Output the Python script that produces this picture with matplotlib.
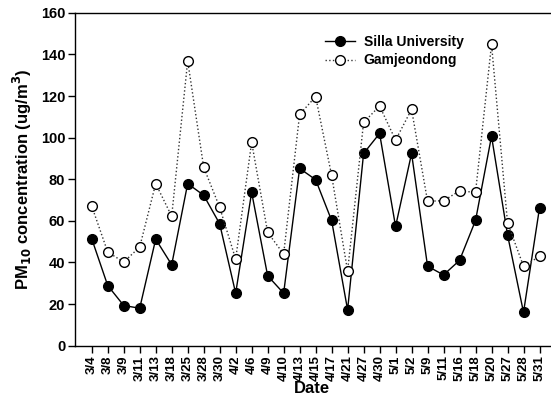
import matplotlib
matplotlib.use("Agg")
import matplotlib.pyplot as plt
import numpy as np

# sampling dates and PM10 values (ug/m3)
dates = ["3/4", "3/8", "3/9", "3/11", "3/13", "3/18", "3/25", "3/28", "3/30",
         "4/2", "4/6", "4/9", "4/10", "4/13", "4/15", "4/17", "4/21", "4/27",
         "4/30", "5/1", "5/2", "5/9", "5/11", "5/16", "5/18", "5/20", "5/27",
         "5/28", "5/31"]
silla = [51.4, 28.9, 19.3, 18.0, 51.2, 38.9, 77.9, 72.3, 58.6, 25.2, 73.7,
         33.6, 25.2, 85.2, 79.8, 60.2, 17.2, 92.4, 102.0, 57.3, 92.4, 38.2,
         34.0, 41.0, 60.2, 100.7, 53.3, 16.0, 66.2]
gamjeon = [67.1, 45.0, 40.2, 47.4, 77.9, 62.2, 136.9, 85.8, 66.5, 41.6, 97.8,
           54.5, 44.0, 111.2, 119.7, 81.9, 35.8, 107.3, 115.2, 98.8, 113.6,
           69.4, 69.7, 74.4, 73.7, 144.9, 59.1, 38.2, 42.9]

plt.rcParams['font.family'] = ['Liberation Sans', 'DejaVu Sans']
plt.rcParams['font.weight'] = 'bold'

fig = plt.figure(figsize=(5.51, 4.01), dpi=100)
ax = fig.add_axes([0.136, 0.138, 0.862, 0.830])

x = np.arange(len(dates))
ax.plot(x, silla, '-', color='black', lw=1.0, marker='o', ms=7,
        mfc='black', mec='black', label='Silla University')
ax.plot(x, gamjeon, ':', color='#333333', lw=1.0, marker='o', ms=7,
        mfc='white', mec='black', mew=1.0, label='Gamjeondong')

ax.set_xlim(-1.05, len(dates) - 0.35)
ax.set_ylim(0, 160)
ax.set_yticks(np.arange(0, 161, 20))
ax.set_xticks(x)
ax.set_xticklabels(dates, rotation=90, fontsize=9.5, fontweight='bold')
for lab in ax.get_yticklabels():
    lab.set_fontsize(10.5)
    lab.set_fontweight('bold')
ax.tick_params(direction='out', length=5, width=1, pad=2)

ax.spines['right'].set_visible(False)
for s in ['left', 'bottom', 'top']:
    ax.spines[s].set_linewidth(1.0)

ax.set_xlabel("Date", fontsize=12, fontweight='bold', labelpad=0)
ax.set_ylabel(r"PM$_{\mathbf{10}}$ concentration (ug/m$^{\mathbf{3}}$)",
              fontsize=12, fontweight='bold', labelpad=5)

ax.legend(loc='upper left', bbox_to_anchor=(0.50, 0.97), frameon=False,
          handlelength=2.2, handletextpad=0.6, labelspacing=0.3,
          prop={'weight': 'bold', 'size': 10})

fig.savefig("out.png", dpi=100)
